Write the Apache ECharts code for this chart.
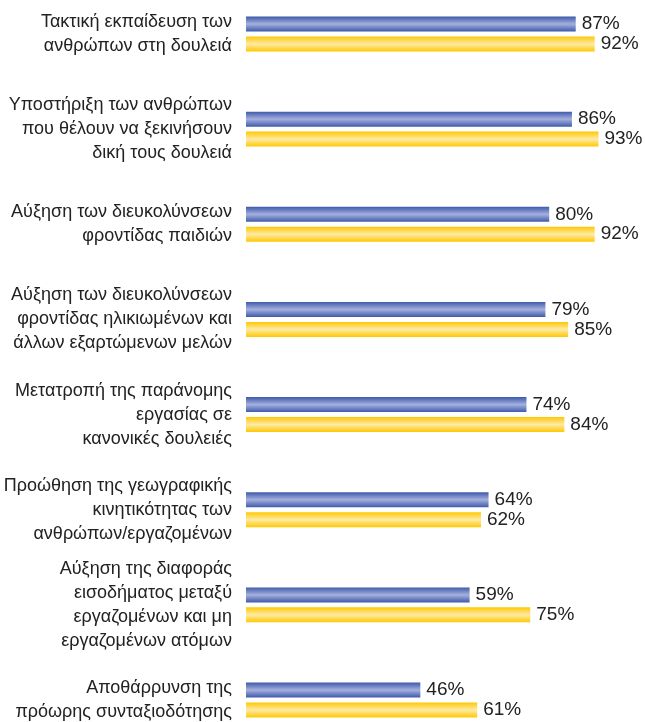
<!DOCTYPE html>
<html>
<head>
<meta charset="utf-8">
<script src="https://cdn.jsdelivr.net/npm/echarts@6/dist/echarts.min.js"></script>
<style>
  html, body { margin: 0; padding: 0; background: #fff; }
  #chart { width: 645px; height: 722px; }
</style>
</head>
<body>
<div id="chart"></div>
<script>
// κατηγορίες (άξονας y)
var categories = [
  'Τακτική εκπαίδευση των\nανθρώπων στη δουλειά',
  'Υποστήριξη των ανθρώπων\nπου θέλουν να ξεκινήσουν\nδική τους δουλειά',
  'Αύξηση των διευκολύνσεων\nφροντίδας παιδιών',
  'Αύξηση των διευκολύνσεων\nφροντίδας ηλικιωμένων και\nάλλων εξαρτώμενων μελών',
  'Μετατροπή της παράνομης\nεργασίας σε\nκανονικές δουλειές',
  'Προώθηση της γεωγραφικής\nκινητικότητας των\nανθρώπων/εργαζομένων',
  'Αύξηση της διαφοράς\nεισοδήματος μεταξύ\nεργαζομένων και μη\nεργαζομένων ατόμων',
  'Αποθάρρυνση της\nπρόωρης συνταξιοδότησης'
];
var blueValues = [87, 86, 80, 79, 74, 64, 59, 46];
var yellowValues = [92, 93, 92, 85, 84, 62, 75, 61];

var chart = echarts.init(document.getElementById('chart'));

var blueGrad = new echarts.graphic.LinearGradient(0, 0, 0, 1, [
  { offset: 0, color: '#3f5aaa' },
  { offset: 0.5, color: '#a4b0de' },
  { offset: 1, color: '#3f5aaa' }
]);
var yellowGrad = new echarts.graphic.LinearGradient(0, 0, 0, 1, [
  { offset: 0, color: '#ffc800' },
  { offset: 0.5, color: '#ffeaa6' },
  { offset: 1, color: '#ffc800' }
]);

var labelStyle = {
  show: true,
  position: 'right',
  distance: 6,
  formatter: '{c}%',
  fontSize: 19,
  fontFamily: 'Liberation Sans, Arial, sans-serif',
  color: '#222'
};

var option = {
  animation: false,
  // οι ομάδες κάθονται πάνω στις υποδιαιρέσεις (boundaryGap false), πρώτη στο y=34, τελευταία στο y=700
  grid: { left: 246, right: 20, top: 34, bottom: 22, outerBoundsMode: 'none' },
  xAxis: {
    type: 'value',
    min: 0,
    max: 100,
    show: false
  },
  yAxis: {
    type: 'category',
    inverse: true,
    boundaryGap: false,
    data: categories,
    axisLine: { show: false },
    axisTick: { show: false },
    splitLine: { show: false },
    axisLabel: {
      margin: 14,
      fontSize: 18,
      lineHeight: 24,
      color: '#222',
      align: 'right',
      fontFamily: 'Liberation Sans, Arial, sans-serif'
    }
  },
  series: [
    {
      name: 'Σειρά 1',
      type: 'bar',
      data: blueValues,
      barWidth: 15,
      barGap: '33%',
      itemStyle: { color: blueGrad },
      label: labelStyle
    },
    {
      name: 'Σειρά 2',
      type: 'bar',
      data: yellowValues,
      barWidth: 15,
      barGap: '33%',
      itemStyle: { color: yellowGrad },
      label: labelStyle
    }
  ]
};
chart.setOption(option);
</script>
</body>
</html>
